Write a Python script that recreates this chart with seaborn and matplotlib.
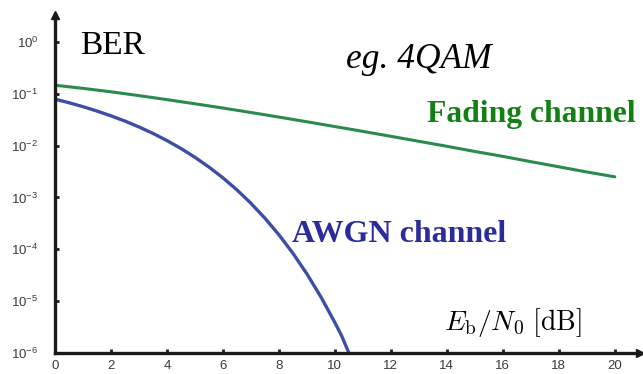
import numpy as np
import pandas as pd
import matplotlib
matplotlib.use("Agg")
import matplotlib.pyplot as plt
import seaborn as sns

# Data
ebn0_fading = [0, 1, 2, 3, 4, 5, 6, 7, 8, 9, 10, 11, 12, 13, 14, 15, 16, 17, 18, 19, 20]
ber_fading = [0.146, 0.127, 0.109, 0.092, 0.077, 0.064, 0.053, 0.0435, 0.0355, 0.0288,
              0.0233, 0.0188, 0.0151, 0.0121, 0.0097, 0.0077, 0.0062, 0.0049, 0.0039,
              0.0031, 0.0025]
ebn0_awgn = [0, 0.5, 1, 1.5, 2, 2.5, 3, 3.5, 4, 4.5, 5, 5.5, 6, 6.5, 7, 7.5, 8, 8.5,
             9, 9.5, 10, 10.25, 10.5]
ber_awgn = [0.0786, 0.0671, 0.0563, 0.0464, 0.0375, 0.0297, 0.0229, 0.0172, 0.0125,
            0.0088, 0.00595, 0.00386, 0.00239, 0.0014, 0.000773, 0.000398, 0.000191,
            8.4e-5, 3.36e-5, 1.21e-5, 3.87e-6, 2.1e-6, 1.0e-6]

x_ticks = [0, 2, 4, 6, 8, 10, 12, 14, 16, 18, 20]
y_ticks = [1e0, 1e-1, 1e-2, 1e-3, 1e-4, 1e-5, 1e-6]
y_tick_labels = [r"$10^{0}$", r"$10^{-1}$", r"$10^{-2}$", r"$10^{-3}$",
                 r"$10^{-4}$", r"$10^{-5}$", r"$10^{-6}$"]

sns.set_theme(style="white")
plt.rcParams["mathtext.fontset"] = "custom"
plt.rcParams["mathtext.rm"] = "Liberation Sans"
plt.rcParams["mathtext.it"] = "Liberation Sans:italic"
plt.rcParams["font.family"] = ["Liberation Sans", "DejaVu Sans"]

fig = plt.figure(figsize=(6.43, 3.74), dpi=100)
ax = fig.add_axes([0.0855, 0.0561, 0.9098, 0.904])

df_f = pd.DataFrame({"x": ebn0_fading, "y": ber_fading})
df_a = pd.DataFrame({"x": ebn0_awgn, "y": ber_awgn})
sns.lineplot(data=df_f, x="x", y="y", ax=ax, color="#2b8a4e", lw=2.2)
sns.lineplot(data=df_a, x="x", y="y", ax=ax, color="#3d4ea6", lw=2.4)

ax.set_yscale("log")
ax.set_xlim(0, 20.9)
ax.set_ylim(1e-6, 10 ** 0.52)
ax.set_xticks(x_ticks)
ax.set_xticklabels([str(t) for t in x_ticks])
ax.set_yticks(y_ticks)
ax.set_yticklabels(y_tick_labels)
ax.yaxis.set_minor_locator(matplotlib.ticker.NullLocator())
ax.set_xlabel("")
ax.set_ylabel("")

for s in ["top", "right"]:
    ax.spines[s].set_visible(False)
for s in ["left", "bottom"]:
    ax.spines[s].set_linewidth(2.4)
    ax.spines[s].set_color("#1a1a1a")
ax.plot(1, 0, ">", color="#1a1a1a", ms=6, transform=ax.transAxes, clip_on=False)
ax.plot(0, 1, "^", color="#1a1a1a", ms=6, transform=ax.transAxes, clip_on=False)

ax.tick_params(axis="both", direction="in", length=3, width=2, color="#1a1a1a",
               labelsize=9.5, labelcolor="#3a3a3a", pad=5, bottom=True, left=True)
ax.tick_params(axis="y", pad=12)

serif = ["Liberation Serif", "DejaVu Serif"]
ax.text(0.9, 10 ** -0.23, "BER", fontsize=24, family=serif, color="black", va="baseline")
ax.text(10.4, 10 ** -0.50, "eg. 4QAM", fontsize=25.5, family=serif, style="italic",
        color="black", va="baseline")
ax.text(13.3, 10 ** -1.54, "Fading channel", fontsize=22.8, family=serif, weight="bold",
        color="#138013", va="baseline")
ax.text(8.46, 10 ** -3.86, "AWGN channel", fontsize=23, family=serif, weight="bold",
        color="#2b2b9c", va="baseline")
ax.text(13.9, 10 ** -5.56, r"$E_{\mathrm{b}}/N_0\ [\mathrm{dB}]$", fontsize=20,
        color="black", va="baseline", math_fontfamily="cm")

fig.savefig("out.png", dpi=100)
